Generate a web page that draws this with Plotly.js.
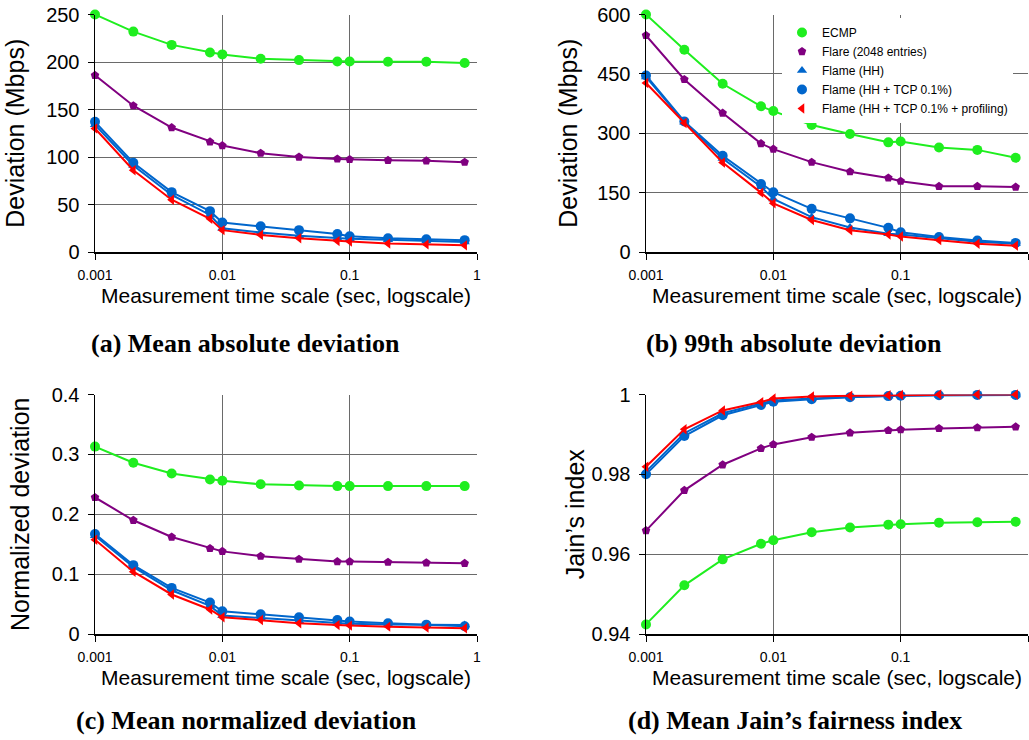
<!DOCTYPE html>
<html>
<head>
<meta charset="utf-8">
<script src="https://cdn.plot.ly/plotly-3.0.1.min.js"></script>
<style>html,body{margin:0;padding:0;background:#fff;}#chart{width:1029px;height:740px;}</style>
</head>
<body>
<div id="chart"></div>
<script>
// ---- data ----
const timeScale = [0.001, 0.002, 0.004, 0.008, 0.01, 0.02, 0.04, 0.08, 0.1, 0.2, 0.4, 0.8];
const seriesNames = ["ECMP", "Flare (2048 entries)", "Flame (HH)", "Flame (HH + TCP 0.1%)", "Flame (HH + TCP 0.1% + profiling)"];

// (a) Mean absolute deviation (Mbps)
const ecmpMeanDev   = [250, 232, 218, 210, 208, 203.5, 202, 200.5, 200.5, 200.3, 200.3, 199];
const flareMeanDev  = [186, 154, 131, 116, 112, 104, 100, 98, 97.5, 96.5, 96, 94.5];
const flameHHMeanDev  = [134, 91, 60, 39, 25, 20.5, 17, 14.5, 14, 13, 11.5, 10.5];
const flameTcpMeanDev = [137, 94, 63, 43, 31, 27, 23, 19, 16.5, 14.5, 13.5, 12.5];
const flameProfMeanDev = [130, 86, 55, 35, 23, 18, 14.5, 11.5, 11, 9, 8, 7];

// (b) 99th absolute deviation (Mbps)
const ecmp99Dev   = [600, 511, 425, 368, 356, 321, 298, 277, 279, 264, 258, 238];
const flare99Dev  = [547, 436, 351, 274, 260, 227, 203, 187, 179, 166, 166, 164];
const flameHH99Dev  = [442, 328, 236, 165, 134, 88, 62, 46, 44, 35, 26, 21];
const flameTcp99Dev = [446, 330, 243, 172, 151, 109, 85, 61, 50, 38, 29, 23];
const flameProf99Dev = [427, 326, 226, 150, 123, 81, 55, 44, 39, 30, 21, 16];

// (c) Mean normalized deviation
const ecmpNormDev   = [0.313, 0.286, 0.268, 0.258, 0.256, 0.250, 0.248, 0.247, 0.247, 0.247, 0.247, 0.247];
const flareNormDev  = [0.228, 0.190, 0.162, 0.143, 0.138, 0.130, 0.125, 0.121, 0.121, 0.120, 0.119, 0.118];
const flameHHNormDev  = [0.164, 0.112, 0.073, 0.047, 0.031, 0.027, 0.022, 0.018, 0.017, 0.016, 0.015, 0.015];
const flameTcpNormDev = [0.167, 0.115, 0.077, 0.0525, 0.038, 0.033, 0.028, 0.0235, 0.021, 0.018, 0.0156, 0.013];
const flameProfNormDev = [0.1575, 0.104, 0.066, 0.041, 0.028, 0.0235, 0.018, 0.015, 0.014, 0.0123, 0.0106, 0.0095];

// (d) Mean Jain's fairness index
const ecmpJain   = [0.9424, 0.9522, 0.9587, 0.9626, 0.9635, 0.9655, 0.9667, 0.9674, 0.9675, 0.9679, 0.9680, 0.9681];
const flareJain  = [0.9659, 0.9760, 0.9824, 0.9865, 0.9875, 0.9893, 0.9904, 0.9910, 0.9912, 0.9915, 0.9917, 0.9919];
const flameHHJain  = [0.9807, 0.9903, 0.9953, 0.9978, 0.9985, 0.9990, 0.9994, 0.9996, 0.9997, 0.9998, 0.9999, 0.9999];
const flameTcpJain = [0.9800, 0.9896, 0.9948, 0.9974, 0.9982, 0.9988, 0.9993, 0.9996, 0.9997, 0.9998, 0.9999, 0.9999];
const flameProfJain = [0.9819, 0.9913, 0.9960, 0.9981, 0.9990, 0.9995, 0.9997, 0.9998, 0.9999, 1.0, 1.0, 1.0];

const xTickVals = [0.001, 0.01, 0.1, 1];
const xTickText = ["0.001", "0.01", "0.1", "1"];
const captions = ["(a) Mean absolute deviation", "(b) 99th absolute deviation", "(c) Mean normalized deviation", "(d) Mean Jain\u2019s fairness index"];
const yTitles = ["Deviation (Mbps)", "Deviation (Mbps)", "Normalized deviation", "Jain\u2019s index"];

// ---- styling ----
const colors = ["#1fee1f", "#800080", "#0066cc", "#0066cc", "#ff0000"];
const symbols = ["circle", "pentagon", "triangle-up", "circle", "triangle-left"];
const sizes = [10, 9, 9, 10, 9];

const panels = [
  {xa: "x", ya: "y", data: [ecmpMeanDev, flareMeanDev, flameHHMeanDev, flameTcpMeanDev, flameProfMeanDev]},
  {xa: "x2", ya: "y2", data: [ecmp99Dev, flare99Dev, flameHH99Dev, flameTcp99Dev, flameProf99Dev]},
  {xa: "x3", ya: "y3", data: [ecmpNormDev, flareNormDev, flameHHNormDev, flameTcpNormDev, flameProfNormDev]},
  {xa: "x4", ya: "y4", data: [ecmpJain, flareJain, flameHHJain, flameTcpJain, flameProfJain]}
];

const traces = [];
panels.forEach(p => {
  p.data.forEach((vals, i) => {
    traces.push({
      type: "scatter", mode: "lines+markers",
      x: timeScale, y: vals, xaxis: p.xa, yaxis: p.ya,
      name: seriesNames[i], showlegend: false, cliponaxis: false,
      line: {color: colors[i], width: 2},
      marker: {color: colors[i], symbol: symbols[i], size: sizes[i]}
    });
  });
});
// legend-only entries (markers only, as in the reference legend)
seriesNames.forEach((n, i) => {
  traces.push({
    type: "scatter", mode: "markers", x: [null], y: [null], xaxis: "x2", yaxis: "y2",
    name: n, showlegend: true,
    marker: {color: colors[i], symbol: symbols[i], size: sizes[i]}
  });
});

const W = 1029, H = 740;
const xdomL = [95 / W, 477 / W], xdomR = [646 / W, 1028 / W];
const ydomT = [1 - 252 / H, 1 - 14.5 / H], ydomB = [1 - 634 / H, 1 - 394.5 / H];

const tickFontX = {family: "Liberation Sans, Arial, sans-serif", size: 14, color: "#000"};
const tickFontY = {family: "Liberation Sans, Arial, sans-serif", size: 20, color: "#000"};
const xTitleFont = {family: "Liberation Sans, Arial, sans-serif", size: 21, color: "#000"};
const yTitleFont = {family: "Liberation Sans, Arial, sans-serif", size: 25, color: "#000"};

function xAxis(dom, anchor) {
  return {
    type: "log", domain: dom, anchor: anchor, range: [-3, 0],
    tickvals: xTickVals, ticktext: xTickText, tickfont: tickFontX,
    ticks: "outside", ticklen: 6, tickcolor: "#000", ticklabelstandoff: 4,
    showline: true, linecolor: "#000", linewidth: 1.5,
    showgrid: true, gridcolor: "#6a6a6a", gridwidth: 1,
    zeroline: false, fixedrange: true,
    title: {text: "Measurement time scale (sec, logscale)", font: xTitleFont, standoff: 6}
  };
}
function yAxis(dom, anchor, range, tv, tt, title, standoff) {
  return {
    domain: dom, anchor: anchor, range: range,
    tickvals: tv, ticktext: tt, tickfont: tickFontY,
    ticks: "outside", ticklen: 6, tickcolor: "#000", ticklabelstandoff: 4,
    showline: true, linecolor: "#000", linewidth: 1.5,
    showgrid: true, gridcolor: "#6a6a6a", gridwidth: 1,
    zeroline: false, fixedrange: true,
    title: {text: title, font: yTitleFont, standoff: standoff}
  };
}

const annotations = [
  {x: 245 / W, y: 1 - 343 / H},
  {x: 794 / W, y: 1 - 343 / H},
  {x: 246 / W, y: 1 - 720 / H},
  {x: 795 / W, y: 1 - 720 / H}
].map((p, i) => ({
  xref: "paper", yref: "paper", x: p.x, y: p.y, xanchor: "center", yanchor: "middle",
  showarrow: false, text: "<b>" + captions[i] + "</b>",
  font: {family: "Liberation Serif, Times New Roman, serif", size: 26, color: "#000"}
}));

const layout = {
  width: W, height: H,
  margin: {l: 0, r: 0, t: 0, b: 0},
  paper_bgcolor: "#fff", plot_bgcolor: "#fff",
  showlegend: true,
  legend: {
    x: 782 / W, y: 1 - 18 / H, xanchor: "left", yanchor: "top",
    bgcolor: "#fff", borderwidth: 0,
    font: {family: "Liberation Sans, Arial, sans-serif", size: 12, color: "#000"}
  },
  xaxis: xAxis(xdomL, "y"),
  yaxis: yAxis(ydomT, "x", [0, 250], [0, 50, 100, 150, 200, 250], ["0", "50", "100", "150", "200", "250"], yTitles[0], 14),
  xaxis2: xAxis(xdomR, "y2"),
  yaxis2: yAxis(ydomT, "x2", [0, 600], [0, 150, 300, 450, 600], ["0", "150", "300", "450", "600"], yTitles[1], 12),
  xaxis3: xAxis(xdomL, "y3"),
  yaxis3: yAxis(ydomB, "x3", [0, 0.4], [0, 0.1, 0.2, 0.3, 0.4], ["0", "0.1", "0.2", "0.3", "0.4"], yTitles[2], 15),
  xaxis4: xAxis(xdomR, "y4"),
  yaxis4: yAxis(ydomB, "x4", [0.94, 1], [0.94, 0.96, 0.98, 1], ["0.94", "0.96", "0.98", "1"], yTitles[3], 0),
  annotations: annotations
};

Plotly.newPlot("chart", traces, layout, {displayModeBar: false, staticPlot: true});
</script>
</body>
</html>
